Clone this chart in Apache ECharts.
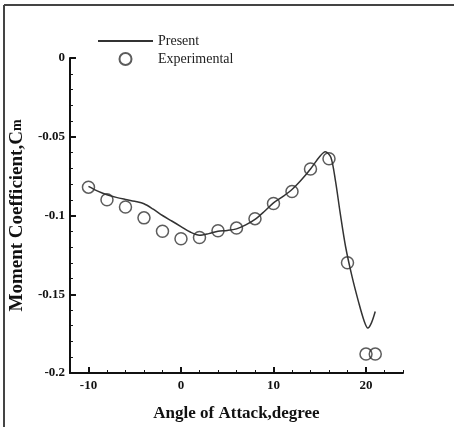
<!DOCTYPE html>
<html>
<head>
<meta charset="utf-8">
<script src="https://cdn.jsdelivr.net/npm/echarts@6/dist/echarts.min.js"></script>
<style>html,body{margin:0;padding:0;background:#fff;}#c{width:454px;height:427px;}</style>
</head>
<body>
<div id="c"></div>
<script>
var presentAlpha = [-10,-9,-8,-7,-6,-5,-4,-3,-2,-1,0,1,2,3,4,5,6,7,8,9,10,11,12,13,14,15,15.6,16.2,16.7,17.2,17.8,18.5,19.2,19.8,20.2,20.6,21];
var presentCm = [-0.0815,-0.0845,-0.0868,-0.0885,-0.0898,-0.091,-0.0925,-0.096,-0.1,-0.1035,-0.107,-0.1105,-0.1125,-0.1115,-0.110,-0.1095,-0.1085,-0.106,-0.1025,-0.0975,-0.092,-0.088,-0.0835,-0.0775,-0.0705,-0.0625,-0.0595,-0.063,-0.078,-0.098,-0.12,-0.139,-0.155,-0.167,-0.1715,-0.168,-0.161];
var expAlpha = [-10,-8,-6,-4,-2,0,2,4,6,8,10,12,14,16,18,20,21];
var expCm = [-0.082,-0.090,-0.0946,-0.1015,-0.110,-0.1148,-0.114,-0.1097,-0.108,-0.102,-0.0924,-0.0848,-0.0705,-0.064,-0.130,-0.188,-0.188];
var xLabelValues = [-10,0,10,20];

var font = '"Liberation Serif", "DejaVu Serif", serif';
var chart = echarts.init(document.getElementById('c'));
function pairs(a,b){return a.map(function(v,i){return [v,b[i]];});}
chart.setOption({
  animation:false,
  backgroundColor:'#fff',
  grid:{left:63,right:51,top:58,bottom:43,containLabel:false},
  legend:{
    orient:'vertical', left:97, top:34, padding:0, itemWidth:55, itemHeight:12, itemGap:4,
    textStyle:{fontFamily:font,fontSize:14,color:'#222'},
    data:[{name:'Present', itemStyle:{color:'rgba(0,0,0,0)', borderColor:'rgba(0,0,0,0)', borderWidth:0}},'Experimental']
  },
  xAxis:[{
    type:'value', min:-12, max:24, position:'bottom',
    name:'Angle of Attack,degree', nameLocation:'middle', nameGap:32,
    nameTextStyle:{fontFamily:font,fontSize:17,fontWeight:'bold',color:'#111'},
    axisLine:{onZero:false,lineStyle:{color:'#111',width:2}},
    axisTick:{inside:true,length:6,lineStyle:{color:'#111',width:2},customValues:xLabelValues},
    axisLabel:{customValues:xLabelValues,fontFamily:font,fontSize:13,fontWeight:'bold',color:'#111',margin:6},
    splitLine:{show:false}
  },{
    type:'value', min:-12, max:24, interval:2, position:'bottom', gridIndex:0,
    axisLine:{show:false,onZero:false},
    axisTick:{inside:true,length:3,lineStyle:{color:'#111',width:1}},
    axisLabel:{show:false}, splitLine:{show:false}
  }],
  yAxis:{
    type:'value', min:-0.2, max:0, interval:0.05, position:'left',
    name:'{a|Moment Coefficient,C}{b|m}', nameLocation:'middle', nameGap:40, nameRotate:90,
    nameTextStyle:{fontFamily:font,fontSize:19,fontWeight:'bold',color:'#111',
      rich:{a:{fontFamily:font,fontSize:19,fontWeight:'bold',color:'#111'},b:{fontFamily:font,fontSize:14,fontWeight:'bold',color:'#111'}}},
    axisLine:{onZero:false,lineStyle:{color:'#111',width:2}},
    axisTick:{inside:true,length:6,lineStyle:{color:'#111',width:2}},
    minorTick:{show:true,splitNumber:5,length:3,lineStyle:{color:'#111',width:1}},
    axisLabel:{fontFamily:font,fontSize:13,fontWeight:'bold',color:'#111',margin:5,
      formatter:function(v){return v===0?'0':String(+v.toFixed(2));}},
    splitLine:{show:false}
  },
  graphic:[
    {type:'line',shape:{x1:4,y1:5,x2:454,y2:5},style:{stroke:'#444',lineWidth:2}},
    {type:'line',shape:{x1:4,y1:5,x2:4,y2:427},style:{stroke:'#444',lineWidth:2}}
  ],
  series:[{
    name:'Present', type:'line', xAxisIndex:0, data:pairs(presentAlpha,presentCm),
    symbol:'none', smooth:0.3,
    lineStyle:{color:'#333',width:1.5}, itemStyle:{color:'#333'}
  },{
    name:'Experimental', type:'scatter', xAxisIndex:0, data:pairs(expAlpha,expCm),
    symbol:'circle', symbolSize:12,
    itemStyle:{color:'rgba(255,255,255,0)',borderColor:'#333',borderWidth:1.5}
  }]
});
</script>
</body>
</html>
